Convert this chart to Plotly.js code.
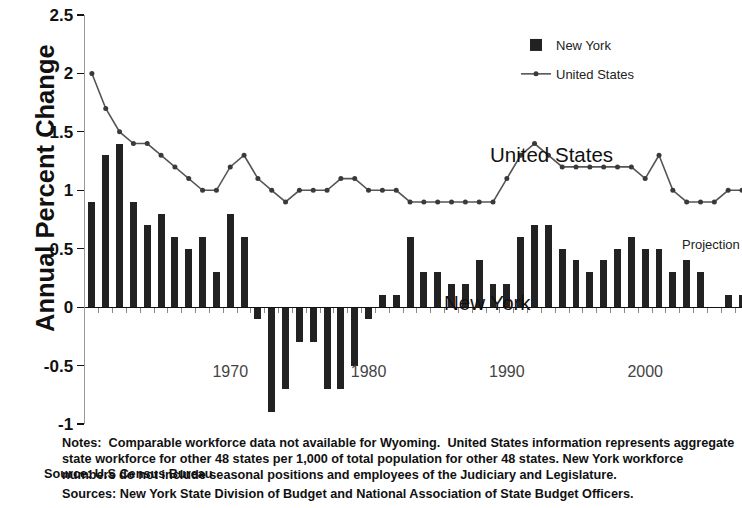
<!DOCTYPE html>
<html><head><meta charset="utf-8">
<script src="https://cdn.plot.ly/plotly-3.0.1.min.js"></script>
<style>html,body{margin:0;padding:0;background:#fff}#chart{width:742px;height:508px}</style>
</head><body><div id="chart"></div>
<script>
const years = [1960,1961,1962,1963,1964,1965,1966,1967,1968,1969,1970,1971,1972,1973,1974,1975,1976,1977,1978,1979,1980,1981,1982,1983,1984,1985,1986,1987,1988,1989,1990,1991,1992,1993,1994,1995,1996,1997,1998,1999,2000,2001,2002,2003,2004,2005,2006,2007];
const newYork = [0.9,1.3,1.4,0.9,0.7,0.8,0.6,0.5,0.6,0.3,0.8,0.6,-0.1,-0.9,-0.7,-0.3,-0.3,-0.7,-0.7,-0.5,-0.1,0.1,0.1,0.6,0.3,0.3,0.2,0.2,0.4,0.2,0.2,0.6,0.7,0.7,0.5,0.4,0.3,0.4,0.5,0.6,0.5,0.5,0.3,0.4,0.3,null,0.1,0.1];
const unitedStates = [2.0,1.7,1.5,1.4,1.4,1.3,1.2,1.1,1.0,1.0,1.2,1.3,1.1,1.0,0.9,1.0,1.0,1.0,1.1,1.1,1.0,1.0,1.0,0.9,0.9,0.9,0.9,0.9,0.9,0.9,1.1,1.3,1.4,1.3,1.2,1.2,1.2,1.2,1.2,1.2,1.1,1.3,1.0,0.9,0.9,0.9,1.0,1.0];
const decadeTicks = [1970,1980,1990,2000];
const halfYearTicks = years.slice(0,-1).map(y => y + 0.5);
const yTicks = [-1,-0.5,0,0.5,1,1.5,2,2.5];
const yTickText = ['-1','-0.5','0','0.5','1','1.5','2','2.5'];
const noteLines = [
  'Notes:  Comparable workforce data not available for Wyoming.  United States information represents aggregate',
  'state workforce for other 48 states per 1,000 of total population for other 48 states. New York workforce',
  'numbers do not include seasonal positions and employees of the Judiciary and Legislature.',
  'Sources: New York State Division of Budget and National Association of State Budget Officers.'
];
const noteY = [443, 459, 475, 494];
const sourceLine = 'Source: U.S Census Bureau';

const F = '"Liberation Sans", Arial, sans-serif';
const W = 742, H = 508, L = 85, R = 0, T = 15, B = 84;
const pw = W - L - R, ph = H - T - B;
const px2x = p => (p - L) / pw;
const py2y = p => (H - B - p) / ph;
const xr = [1959.5, 2007.0];
const yr = [-1, 2.5];

const traces = [
  {type:'bar', name:'New York', x:years, y:newYork, width:0.5,
   marker:{color:'#222'}, xaxis:'x', yaxis:'y', legendgroup:'a', hoverinfo:'x+y'},
  {type:'scatter', mode:'lines+markers', name:'United States', x:years, y:unitedStates,
   line:{color:'#555', width:1.6}, marker:{color:'#3a3a3a', size:5, symbol:'circle'},
   xaxis:'x2', yaxis:'y', legendgroup:'b'}
];

const annotations = [
  {text:'<b>Annual Percent Change</b>', xref:'paper', yref:'paper', x:px2x(29), y:py2y(188),
   textangle:-90, showarrow:false, font:{family:F, size:25.5, color:'#111'}},
  {text:'United States', xref:'x', yref:'y', x:1988.6, y:1.31, xanchor:'left', yanchor:'middle',
   showarrow:false, font:{family:F, size:20.5, color:'#111'}},
  {text:'New York', xref:'x', yref:'y', x:1985.3, y:0.04, xanchor:'left', yanchor:'middle',
   showarrow:false, font:{family:F, size:20.5, color:'#111'}},
  {text:'Projection', xref:'x', yref:'y', x:2002.5, y:0.54, xanchor:'left', yanchor:'middle',
   showarrow:false, font:{family:F, size:13, color:'#222'}},
  {text:sourceLine, xref:'paper', yref:'paper', x:px2x(42), y:py2y(474), xanchor:'left', yanchor:'middle',
   showarrow:false, font:{family:F, size:12.7, color:'#111', weight:'bold'}}
];
noteLines.forEach((t,i) => annotations.push({
  text:'<b>'+t+'</b>', xref:'paper', yref:'paper', x:px2x(60), y:py2y(noteY[i]),
  xanchor:'left', yanchor:'middle', showarrow:false, font:{family:F, size:12.7, color:'#111'}
}));

const layout = {
  width:W, height:H, margin:{l:L, r:R, t:T, b:B, pad:0},
  paper_bgcolor:'#fff', plot_bgcolor:'#fff', font:{family:F},
  showlegend:true, bargap:0,
  legend:{x:px2x(516), y:py2y(30), xanchor:'left', yanchor:'top', bgcolor:'rgba(0,0,0,0)',
          font:{family:F, size:13, color:'#222'}, traceorder:'grouped', tracegroupgap:9},
  xaxis:{range:xr, anchor:'free', position:(0 - yr[0])/(yr[1]-yr[0]), showline:true, linecolor:'#111', linewidth:1.2,
         tickmode:'array', tickvals:halfYearTicks, ticks:'outside', ticklen:5, tickcolor:'#888', tickwidth:1,
         showticklabels:false, showgrid:false, zeroline:false, fixedrange:true},
  xaxis2:{range:xr, overlaying:'x', anchor:'free', position:py2y(360), showline:false, ticks:'',
          tickmode:'array', tickvals:decadeTicks, ticktext:decadeTicks.map(String),
          tickfont:{family:F, size:16, color:'#444'}, showgrid:false, zeroline:false, fixedrange:true},
  yaxis:{range:yr, tickmode:'array', tickvals:yTicks, ticktext:yTickText, ticks:'outside', ticklen:7,
         tickcolor:'#111', tickwidth:1.2, showline:true, linecolor:'#999', linewidth:1.5,
         tickfont:{family:F, size:17, color:'#111', weight:'bold'}, showgrid:false, zeroline:false, fixedrange:true},
  annotations:annotations
};
Plotly.newPlot('chart', traces, layout, {displayModeBar:false, staticPlot:true});
</script></body></html>
